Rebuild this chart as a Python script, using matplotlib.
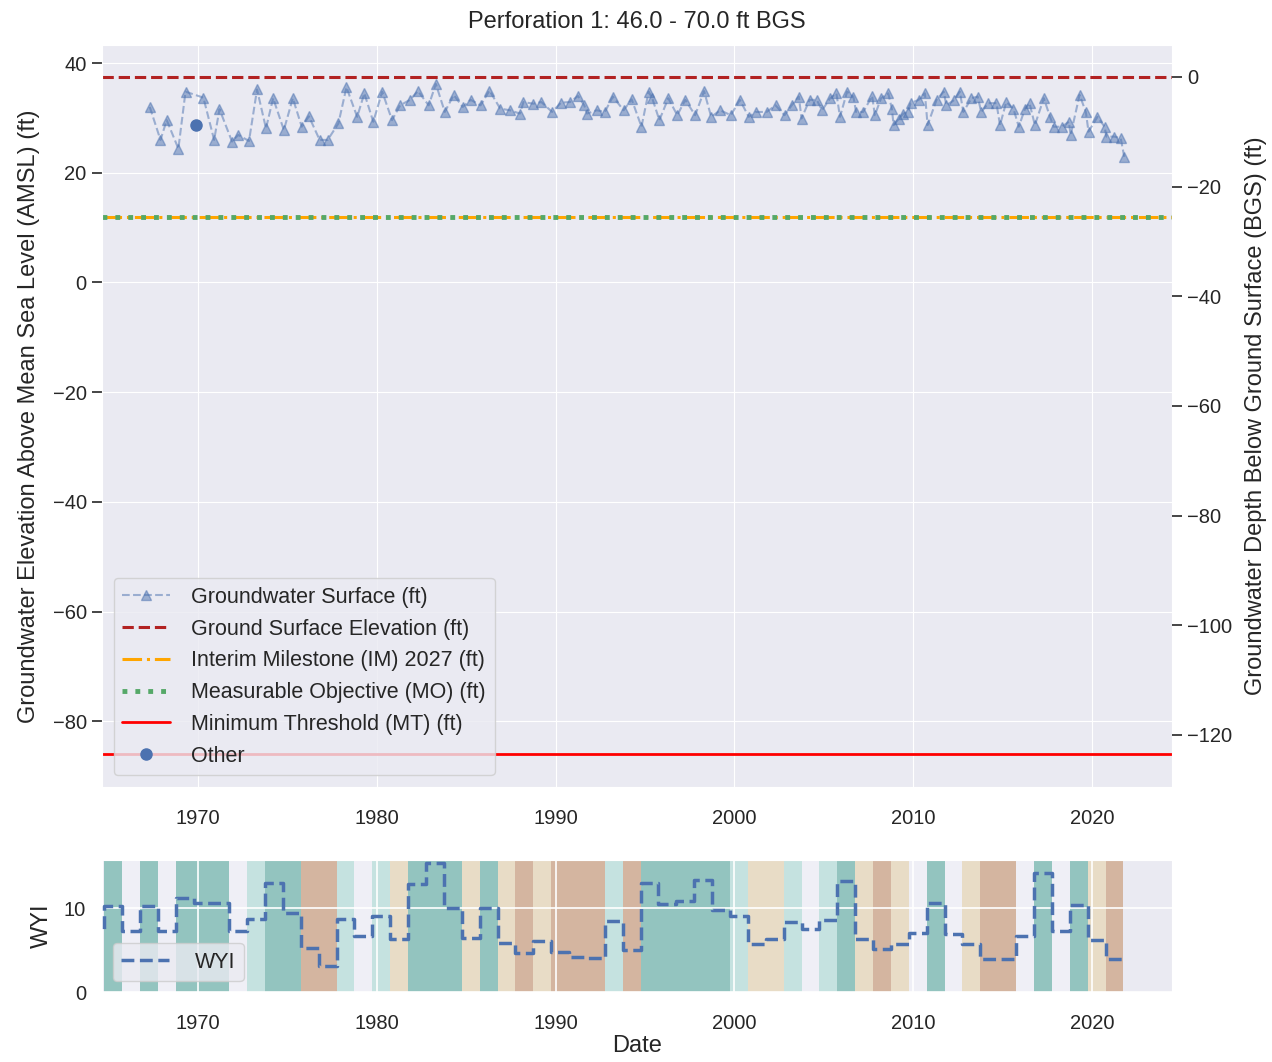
"""
Hydrograph for a monitoring well: groundwater elevation with sustainability
thresholds, plus the Water Year Index (WYI) strip underneath.
"""

import numpy as np
import matplotlib
matplotlib.use('Agg')
import matplotlib.pyplot as plt
import seaborn as sns

# --- data -----------------------------------------------------------------
# groundwater surface measurements (decimal year, elevation ft AMSL)
gw_years = [
    1967.3, 1967.9, 1968.25, 1968.9, 1969.3, 1970.3, 1970.9, 1971.2, 1971.9,
    1972.25, 1972.85, 1973.3, 1973.8, 1974.2, 1974.8, 1975.3, 1975.8, 1976.2,
    1976.8, 1977.25, 1977.85, 1978.3, 1978.9, 1979.3, 1979.8, 1980.3, 1980.85,
    1981.3, 1981.85, 1982.3, 1982.9, 1983.3, 1983.8, 1984.3, 1984.8, 1985.25,
    1985.8, 1986.3, 1986.9, 1987.45, 1988.0, 1988.2, 1988.75, 1989.2, 1989.8,
    1990.3, 1990.8, 1991.25, 1991.6, 1991.75, 1992.3, 1992.75, 1993.2, 1993.8,
    1994.25, 1994.8, 1995.2, 1995.4, 1995.8, 1996.3, 1996.8, 1997.25, 1997.8,
    1998.3, 1998.7, 1999.2, 1999.8, 2000.3, 2000.8, 2001.2, 2001.8, 2002.3,
    2002.8, 2003.2, 2003.6, 2003.75, 2004.2, 2004.6, 2004.9, 2005.35, 2005.7,
    2005.9, 2006.3, 2006.65, 2006.8, 2007.2, 2007.7, 2007.85, 2008.2, 2008.6,
    2008.8, 2008.9, 2009.2, 2009.45, 2009.7, 2009.85, 2010.3, 2010.65, 2010.8,
    2011.3, 2011.7, 2011.85, 2012.3, 2012.6, 2012.8, 2013.25, 2013.6, 2013.8,
    2014.2, 2014.65, 2014.85, 2015.2, 2015.6, 2015.9, 2016.25, 2016.5, 2016.8,
    2017.3, 2017.65, 2017.85, 2018.3, 2018.7, 2018.8, 2019.3, 2019.65, 2019.8,
    2020.3, 2020.7, 2020.8, 2021.25, 2021.6, 2021.8,
]
gw_elev = [
    32.0, 26.0, 29.6, 24.4, 34.8, 33.7, 26.0, 31.6, 25.7,
    26.9, 25.8, 35.2, 28.1, 33.6, 27.8, 33.6, 28.4, 30.3,
    26.0, 26.0, 29.0, 35.6, 30.2, 34.5, 29.3, 34.8, 29.6,
    32.3, 33.3, 34.9, 32.3, 36.2, 31.1, 34.2, 32.0, 33.3,
    32.3, 35.0, 31.7, 31.4, 30.8, 32.9, 32.6, 32.9, 31.1,
    32.8, 32.9, 34.0, 32.3, 30.8, 31.4, 31.1, 33.9, 31.4,
    33.4, 28.4, 34.8, 33.6, 29.6, 33.6, 30.5, 33.3, 30.5,
    34.9, 30.2, 31.4, 30.5, 33.3, 30.2, 31.1, 31.1, 32.3,
    30.5, 32.3, 33.9, 29.9, 33.3, 33.3, 31.4, 33.6, 34.5,
    30.2, 34.8, 33.9, 31.1, 31.1, 34.0, 30.5, 33.6, 34.5,
    31.7, 28.7, 29.9, 30.8, 31.1, 32.7, 33.3, 34.5, 28.7,
    33.3, 34.8, 32.3, 33.3, 34.8, 31.1, 33.6, 33.9, 31.1,
    32.7, 32.7, 28.7, 32.9, 31.7, 28.4, 31.7, 32.7, 28.7,
    33.6, 30.2, 28.4, 28.4, 29.3, 26.9, 34.2, 31.1, 27.5,
    30.2, 28.4, 26.6, 26.6, 26.3, 22.9,
]

# the single "Other" measurement
other_years = [1969.9]
other_elev = [28.7]

# reference levels (ft AMSL)
ground_surface = 37.5
interim_milestone = 12.0
measurable_objective = 12.0
minimum_threshold = -86.0

# water year index and classification
wy_years = list(range(1964, 2022))
wyi = [
    7.5, 10.3, 7.3, 10.3, 7.3, 11.2, 10.7, 10.7, 7.3, 8.7,
    13.1, 9.5, 5.3, 3.1, 8.7, 6.7, 9.1, 6.3, 12.9, 15.4,
    10.1, 6.5, 10.0, 5.9, 4.7, 6.1, 4.8, 4.2, 4.1, 8.5,
    5.0, 13.1, 10.5, 10.9, 13.4, 9.8, 9.1, 5.8, 6.4, 8.4,
    7.5, 8.6, 13.3, 6.3, 5.2, 5.7, 7.1, 10.6, 6.9, 5.8,
    4.0, 4.0, 6.7, 14.2, 7.3, 10.4, 6.2, 4.0,
]
wy_type = [
    'BN', 'W', 'BN', 'W', 'BN', 'W', 'W', 'W', 'BN', 'AN',
    'W', 'W', 'C', 'C', 'AN', 'BN', 'AN', 'D', 'W', 'W',
    'W', 'D', 'W', 'D', 'C', 'D', 'C', 'C', 'C', 'AN',
    'C', 'W', 'W', 'W', 'W', 'W', 'AN', 'D', 'D', 'AN',
    'BN', 'AN', 'W', 'D', 'C', 'D', 'BN', 'W', 'BN', 'D',
    'C', 'C', 'BN', 'W', 'BN', 'W', 'D', 'C',
]

type_colors = {
    'W': '#93c4bf',
    'AN': '#c5e2e0',
    'BN': '#efeff6',
    'D': '#e8dcc6',
    'C': '#d4b5a0',
}

xticks = [1970, 1980, 1990, 2000, 2010, 2020]

# --- styling ---------------------------------------------------------------
sns.set_style('darkgrid')
plt.rcParams['font.family'] = ['Liberation Sans', 'DejaVu Sans']
plt.rcParams['text.color'] = '.15'
plt.rcParams['axes.labelcolor'] = '.15'
plt.rcParams['xtick.color'] = '.15'
plt.rcParams['ytick.color'] = '.15'

TICK_FS = 14.5
LABEL_FS = 17
LEGEND_FS = 15.5

fig = plt.figure(figsize=(12.72, 10.62), dpi=100)
ax = fig.add_axes([0.0802, 0.2589, 0.8412, 0.6987])
ax_wyi = fig.add_axes([0.0802, 0.0659, 0.8412, 0.1243])

xlim = (1964.63, 2024.47)

# --- top panel -------------------------------------------------------------
ax.plot(gw_years, gw_elev, linestyle='--', marker='^', markersize=7.5,
        color='#4c72b0', alpha=0.5, linewidth=1.5,
        label='Groundwater Surface (ft)')
ax.axhline(ground_surface, color='#b22222', linestyle='--', linewidth=2.2,
           label='Ground Surface Elevation (ft)')
ax.axhline(interim_milestone, color='orange', linestyle='-.', linewidth=2.2,
           label='Interim Milestone (IM) 2027 (ft)')
ax.axhline(measurable_objective, color='#55a868', linestyle=':', linewidth=3.5,
           label='Measurable Objective (MO) (ft)')
ax.axhline(minimum_threshold, color='red', linestyle='-', linewidth=2,
           label='Minimum Threshold (MT) (ft)')
ax.plot(other_years, other_elev, 'o', color='#4c72b0', markersize=8,
        linestyle='none', label='Other')

ax.set_xlim(*xlim)
ax.set_ylim(-92.0, 43.3)
ax.set_xticks(xticks)
ax.set_yticks([40, 20, 0, -20, -40, -60, -80])
ax.tick_params(axis='y', left=True, length=7, width=1.2, labelsize=TICK_FS,
               pad=4)
ax.tick_params(axis='x', labelsize=TICK_FS, pad=12)
ax.set_ylabel('Groundwater Elevation Above Mean Sea Level (AMSL) (ft)',
              fontsize=LABEL_FS, labelpad=9)
ax.set_title('Perforation 1: 46.0 - 70.0 ft BGS', fontsize=17, pad=12)

leg = ax.legend(loc='lower left', bbox_to_anchor=(0.0, 0.0),
                fontsize=LEGEND_FS, handlelength=2.2, handletextpad=1.0,
                borderpad=0.4, labelspacing=0.5, borderaxespad=0.55,
                framealpha=0.8)

# secondary axis: depth below ground surface
ax_r = ax.twinx()
ax_r.set_ylim(ax.get_ylim()[0] - ground_surface,
              ax.get_ylim()[1] - ground_surface)
ax_r.set_yticks([0, -20, -40, -60, -80, -100, -120])
ax_r.grid(False)
ax_r.tick_params(axis='y', right=True, length=7, width=1.2,
                 labelsize=TICK_FS, pad=4)
ax_r.set_ylabel('Groundwater Depth Below Ground Surface (BGS) (ft)',
                fontsize=LABEL_FS, labelpad=9)
for side in ax_r.spines.values():
    side.set_visible(False)

# --- bottom panel: water year index -----------------------------------------
for yr, t in zip(wy_years, wy_type):
    ax_wyi.axvspan(yr - 0.25, yr + 0.75, color=type_colors[t], zorder=0,
                   linewidth=0)
ax_wyi.grid(True, color='white', linewidth=1.2, zorder=1)

step_x = [y - 0.25 for y in wy_years] + [wy_years[-1] + 0.75]
step_y = wyi + [wyi[-1]]
ax_wyi.plot(step_x, step_y, drawstyle='steps-post', linestyle='--',
            color='#4c72b0', linewidth=2.5, label='WYI', zorder=3)

ax_wyi.set_axisbelow(False)
ax_wyi.set_xlim(*xlim)
ax_wyi.set_ylim(0, 15.8)
ax_wyi.set_xticks(xticks)
ax_wyi.set_yticks([0, 10])
ax_wyi.tick_params(axis='y', labelsize=TICK_FS, pad=8)
ax_wyi.tick_params(axis='x', labelsize=TICK_FS, pad=12)
ax_wyi.set_ylabel('WYI', fontsize=LABEL_FS, labelpad=8)
ax_wyi.set_xlabel('Date', fontsize=LABEL_FS, labelpad=2)
ax_wyi.legend(loc='lower left', fontsize=LEGEND_FS, handlelength=2.2,
              handletextpad=1.2, borderaxespad=0.5, framealpha=0.8)

plt.savefig('out.png', dpi=100)
